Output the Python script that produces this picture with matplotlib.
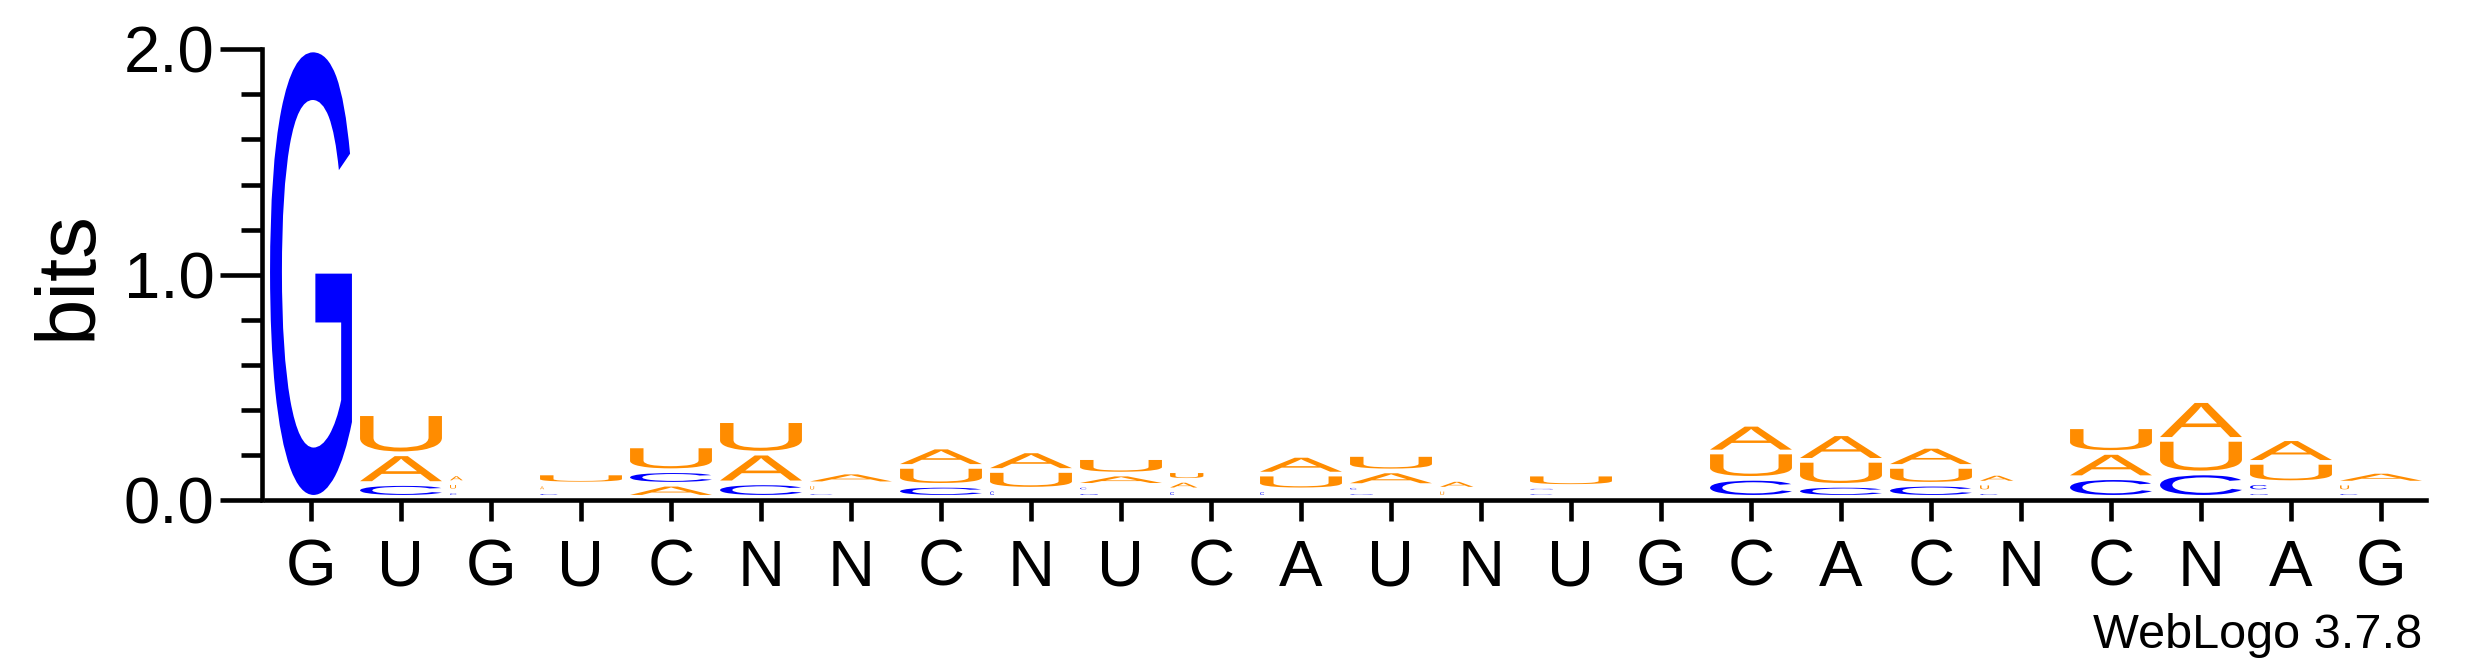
import numpy as np
import matplotlib
matplotlib.use("Agg")
import matplotlib.pyplot as plt
from matplotlib.textpath import TextPath
from matplotlib.patches import PathPatch
from matplotlib.font_manager import FontProperties
from matplotlib.transforms import Affine2D
from matplotlib.ticker import MultipleLocator, FormatStrFormatter

# consensus sequence under the logo
consensus = list("GUGUCNNCNUCAUNUGCACNCNAG")

# letter heights in bits, one value per position
bits_A = [0, .132, .039, .034, .058, .132, .052, .086, .087, .050, .042, .083,
          .065, .043, 0, 0, .123, .118, .089, .043, .112, .172, .105, .052]
bits_C = [0, .061, .028, .025, .060, .064, .024, .053, .036, .028, .033, .033,
          .028, 0, .024, 0, .084, .053, .058, .025, .087, .108, .040, .025]
bits_G = [1.985, 0, 0, 0, 0, 0, 0, 0, 0, .025, 0, 0,
          .024, 0, .024, 0, 0, 0, 0, 0, 0, 0, .025, 0]
bits_U = [0, .178, .037, .049, .110, .144, .036, .084, .083, .073, .043, .070,
          .073, .036, .055, 0, .117, .111, .079, .038, .114, .149, .090, .038]

colors = {"A": "#FF8C00", "U": "#FF8C00", "C": "#0000FF", "G": "#0000FF"}

glyph_font = FontProperties(family="Liberation Sans")
text_font = "Liberation Sans"

fig = plt.figure(figsize=(24.75, 6.67), dpi=100)
ax = fig.add_axes([266 / 2475, 167 / 667, 2160 / 2475, 450.7 / 667])

base = 0.012      # stack starts a little above the axis
pad = 0.0104      # blank space above/below each glyph
col_w = 0.91      # glyph width as fraction of the column


def draw_letter(letter, x, y0, h):
    ink = h - 2 * pad
    if ink <= 0:
        return
    tp = TextPath((0, 0), letter, size=1, prop=glyph_font)
    ext = tp.get_extents()
    # very small glyphs get drawn narrow, as WebLogo does
    frac = np.clip(((ink - 0.0118) / 0.0163) ** 2, 0.05, 1.0)
    w = col_w * frac
    left = x - col_w / 2 if frac < 1 else x - w / 2
    tr = (Affine2D().translate(-ext.x0, -ext.y0)
          .scale(w / ext.width, ink / ext.height)
          .translate(left, y0 + pad))
    ax.add_patch(PathPatch(tr.transform_path(tp), facecolor=colors[letter],
                           edgecolor="none", lw=0))


for i in range(len(consensus)):
    stack = [("A", bits_A[i]), ("C", bits_C[i]), ("G", bits_G[i]), ("U", bits_U[i])]
    stack = sorted([s for s in stack if s[1] > 0], key=lambda s: s[1])
    y = base
    for letter, h in stack:
        draw_letter(letter, i + 1, y, h)
        y += h

ax.set_xlim(0.5, len(consensus) + 0.5)
ax.set_ylim(0, 2.0)

for s in ["top", "right"]:
    ax.spines[s].set_visible(False)
ax.spines["left"].set_position(("outward", 2.9))
ax.spines["left"].set_linewidth(3.3)
ax.spines["bottom"].set_linewidth(3.3)

ax.yaxis.set_major_locator(MultipleLocator(1.0))
ax.yaxis.set_minor_locator(MultipleLocator(0.2))
ax.yaxis.set_major_formatter(FormatStrFormatter("%.1f"))
ax.tick_params(axis="y", which="major", length=30, width=3.3, pad=4,
               labelsize=47)
ax.tick_params(axis="y", which="minor", length=15, width=3.3)

ax.set_xticks(range(1, len(consensus) + 1))
ax.set_xticklabels(consensus)
ax.tick_params(axis="x", which="major", length=15, width=3.3, pad=13,
               labelsize=47)

for lab in ax.get_xticklabels() + ax.get_yticklabels():
    lab.set_fontfamily(text_font)

ax.set_ylabel("bits", fontsize=60, fontfamily=text_font, labelpad=12)

fig.text(2422 / 2475, 1 - 648 / 667, "WebLogo 3.7.8", ha="right",
         va="baseline", fontsize=35, fontfamily=text_font)

fig.savefig("out.png", dpi=100)
